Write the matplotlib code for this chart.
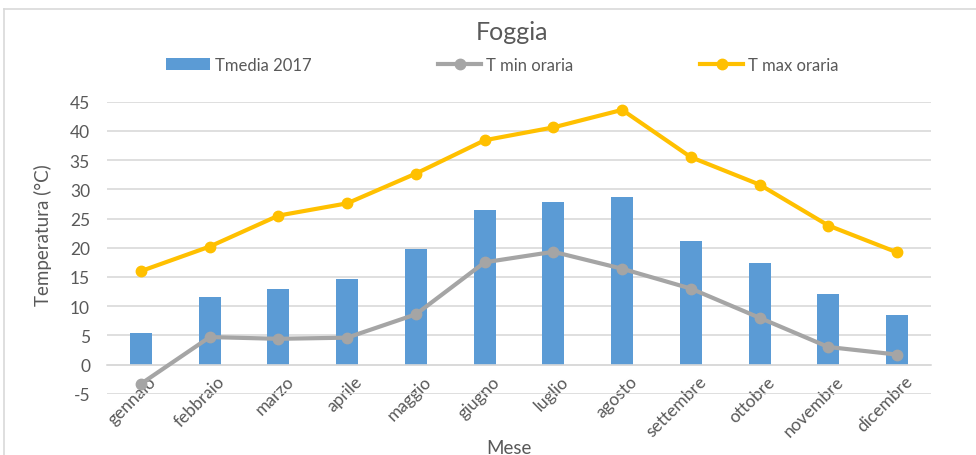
#!/usr/bin/env python3

import matplotlib
matplotlib.use("Agg")
import matplotlib.pyplot as plt
import matplotlib.transforms as mtransforms
from matplotlib.lines import Line2D
import numpy as np

mesi = ["gennaio", "febbraio", "marzo", "aprile", "maggio", "giugno",
        "luglio", "agosto", "settembre", "ottobre", "novembre", "dicembre"]
t_media = [5.4, 11.6, 13.0, 14.6, 19.7, 26.4, 27.9, 28.6, 21.1, 17.4, 12.1, 8.4]
t_min = [-3.3, 4.7, 4.4, 4.6, 8.6, 17.5, 19.3, 16.4, 13.0, 8.0, 3.0, 1.7]
t_max = [16.0, 20.2, 25.5, 27.6, 32.7, 38.4, 40.6, 43.6, 35.5, 30.8, 23.8, 19.2]
y_ticks = [-5, 0, 5, 10, 15, 20, 25, 30, 35, 40, 45]

text_col = "#595959"
grid_col = "#d9d9d9"

plt.rcParams["font.family"] = ["Lato", "DejaVu Sans"]
plt.rcParams["axes.unicode_minus"] = False


def main():
    fig = plt.figure(figsize=(9.76, 4.56), dpi=100)
    ax = fig.add_axes([0.1093, 0.1344, 0.8450, 0.6404])

    # move the category axis to y=0 first (this resets the ticks)
    for s in ["top", "right", "left"]:
        ax.spines[s].set_visible(False)
    ax.spines["bottom"].set_position(("data", 0))
    ax.spines["bottom"].set_color(grid_col)
    ax.spines["bottom"].set_linewidth(1.2)

    x = np.arange(len(mesi))
    ax.bar(x, t_media, width=0.32, color="#5b9bd5", label="Tmedia 2017", zorder=2)
    ax.plot(x, t_min, color="#a5a5a5", lw=3, marker="o", ms=7.5,
            label="T min oraria", zorder=3)
    ax.plot(x, t_max, color="#ffc000", lw=3, marker="o", ms=7.5,
            label="T max oraria", zorder=3)

    ax.set_xlim(-0.5, len(mesi) - 0.5)
    ax.set_ylim(-5, 45)
    ax.set_yticks(y_ticks)
    ax.set_xticks(x)
    ax.tick_params(axis="both", length=0, labelsize=12.5, colors=text_col)
    ax.tick_params(axis="x", pad=6)
    ax.tick_params(axis="y", pad=12)
    ax.set_xticklabels(mesi, rotation=45, ha="right", rotation_mode="anchor")
    shift = mtransforms.ScaledTranslation(7 / 100, 0, fig.dpi_scale_trans)
    for lab in ax.get_xticklabels():
        lab.set_transform(lab.get_transform() + shift)
    ax.grid(axis="y", color=grid_col, lw=1.2, zorder=0)
    ax.set_axisbelow(True)

    ax.set_ylabel("Temperatura (°C)", fontsize=13.5, color=text_col)
    ax.yaxis.set_label_coords(-0.066, 0.547)
    ax.set_xlabel("Mese", fontsize=13.5, color=text_col, va="center")
    ax.xaxis.set_label_coords(0.488, -0.183)

    fig.text(0.525, 0.928, "Foggia", ha="center", va="center",
             fontsize=18, color=text_col)

    h, l = ax.get_legend_handles_labels()
    order = [l.index("Tmedia 2017"), l.index("T min oraria"), l.index("T max oraria")]
    leg = fig.legend([h[i] for i in order], [l[i] for i in order],
                     loc="center", bbox_to_anchor=(0.515, 0.855), ncol=3,
                     frameon=False, fontsize=12, handlelength=2.6,
                     handletextpad=0.3, columnspacing=7.6)
    for t in leg.get_texts():
        t.set_color(text_col)

    # chart border
    fig.add_artist(Line2D([4 / 976, 4 / 976], [0, 1 - 10 / 456],
                          transform=fig.transFigure, color=grid_col, lw=1.2))
    fig.add_artist(Line2D([4 / 976, 1], [1 - 10 / 456, 1 - 10 / 456],
                          transform=fig.transFigure, color=grid_col, lw=1.2))

    fig.savefig("out.png", dpi=100)


if __name__ == "__main__":
    main()
